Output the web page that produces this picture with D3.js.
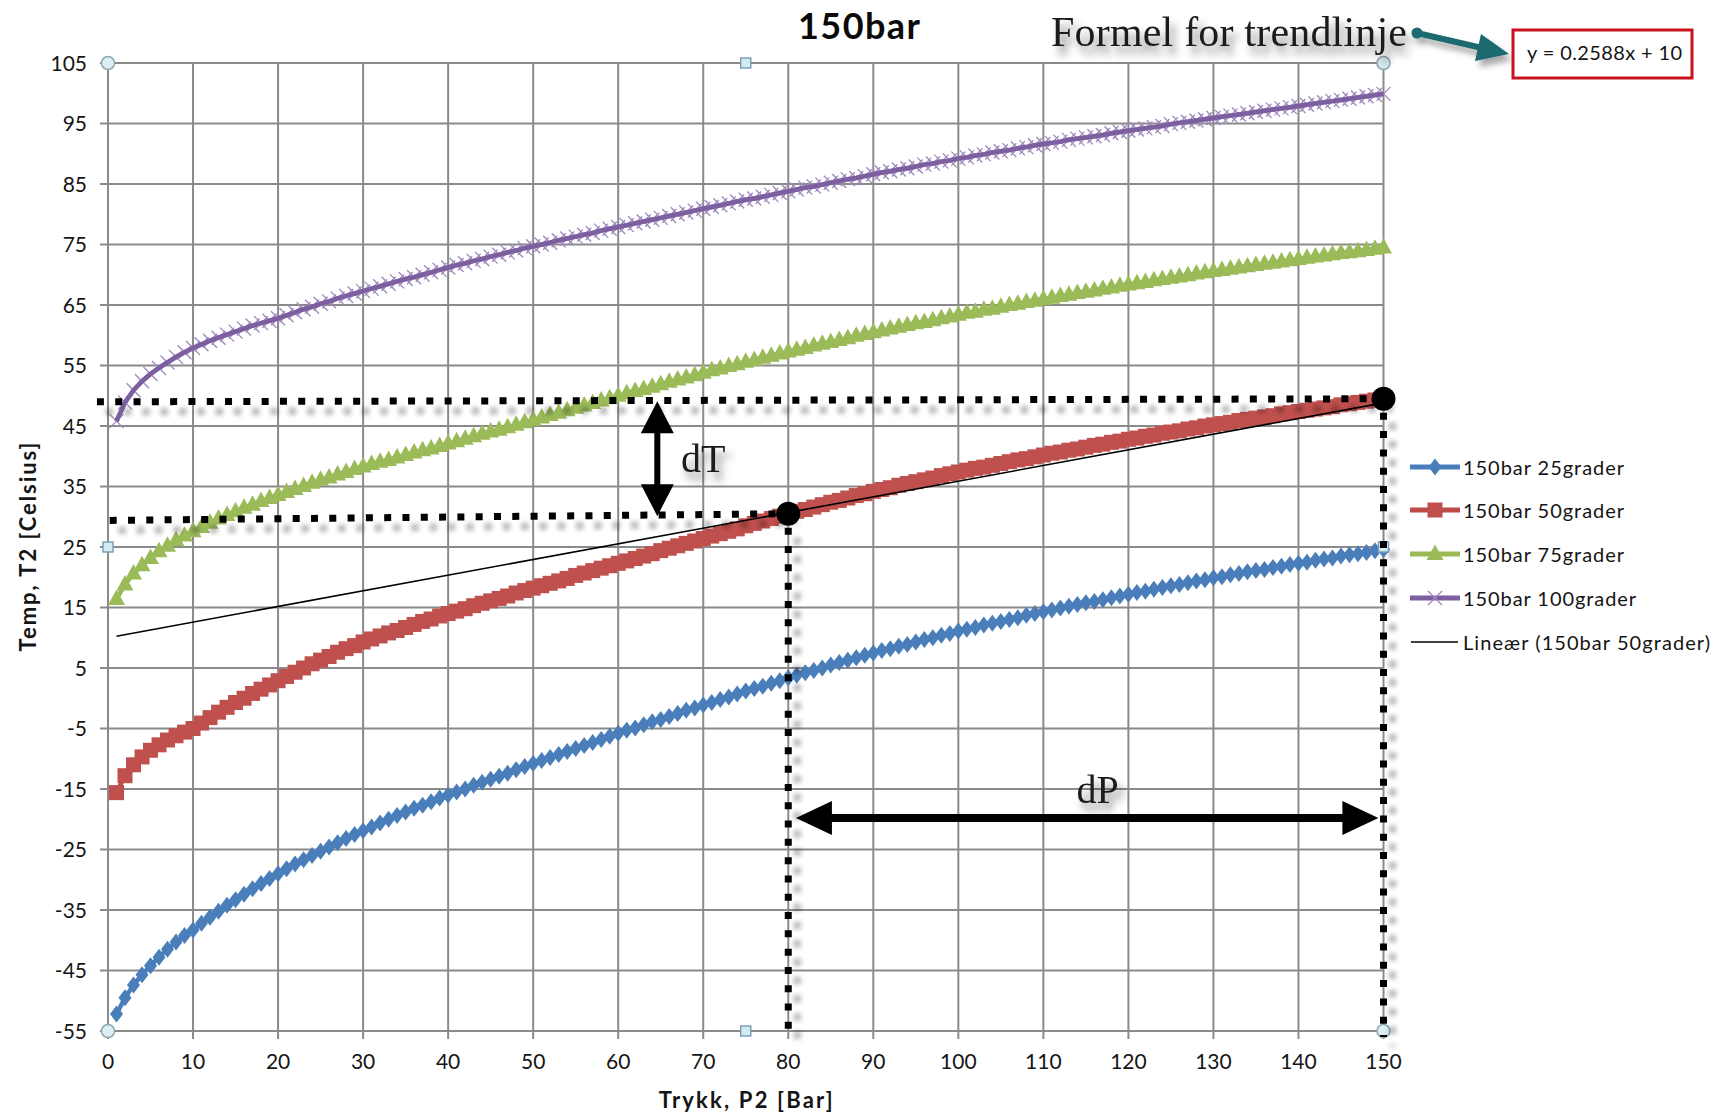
<!DOCTYPE html>
<html>
<head>
<meta charset="utf-8">
<script src="https://cdn.jsdelivr.net/npm/d3@7"></script>
<style>
  html, body { margin: 0; padding: 0; background: #ffffff; }
  svg { display: block; font-family: Lato, "Open Sans", sans-serif; }
</style>
</head>
<body>
<svg id="chart" width="1727" height="1118"></svg>
<script>
// ---- data -------------------------------------------------------------
// Outlet pressure P2 in bar (one reading per bar)
const pressure = d3.range(1, 151);

// Outlet temperature T2 [°C] when throttling from 150 bar, per inlet temperature
const t25 = [
  -52.2,-49.5,-47.4,-45.7,-44.2,-42.8,-41.5,-40.3,-39.2,-38.3,
  -37.2,-36.2,-35.2,-34.2,-33.3,-32.4,-31.5,-30.6,-29.8,-29.0,
  -28.2,-27.4,-26.7,-26.0,-25.3,-24.6,-23.9,-23.2,-22.5,-21.9,
  -21.3,-20.6,-20.0,-19.4,-18.8,-18.2,-17.7,-17.1,-16.5,-16.0,
  -15.5,-15.0,-14.4,-13.9,-13.4,-12.9,-12.4,-11.8,-11.3,-10.8,
  -10.3,-9.8,-9.3,-8.8,-8.3,-7.8,-7.3,-6.8,-6.3,-5.8,
  -5.3,-4.9,-4.4,-3.9,-3.5,-3.0,-2.5,-2.0,-1.6,-1.1,
  -0.7,-0.2,0.2,0.7,1.2,1.6,2.0,2.5,2.9,3.4,
  3.8,4.2,4.6,5.0,5.5,5.9,6.3,6.7,7.1,7.5,
  7.9,8.2,8.6,8.9,9.3,9.7,10.0,10.4,10.7,11.1,
  11.4,11.7,12.1,12.4,12.7,13.0,13.3,13.7,14.0,14.3,
  14.6,14.9,15.2,15.5,15.8,16.0,16.3,16.6,16.9,17.2,
  17.5,17.7,18.0,18.3,18.6,18.8,19.1,19.4,19.6,19.9,
  20.1,20.4,20.6,20.9,21.1,21.3,21.6,21.8,22.1,22.3,
  22.5,22.8,23.0,23.2,23.5,23.7,23.9,24.1,24.4,24.6
];
const t50 = [
  -15.6,-12.8,-11.0,-9.7,-8.6,-7.7,-6.9,-6.2,-5.6,-5.0,
  -4.1,-3.2,-2.3,-1.5,-0.7,0.0,0.8,1.5,2.2,2.9,
  3.6,4.3,5.0,5.7,6.3,6.9,7.6,8.2,8.7,9.3,
  9.8,10.3,10.8,11.2,11.7,12.2,12.7,13.1,13.6,14.0,
  14.4,14.8,15.3,15.7,16.1,16.5,16.9,17.4,17.8,18.2,
  18.6,19.0,19.4,19.8,20.3,20.7,21.1,21.5,21.9,22.3,
  22.7,23.1,23.5,23.9,24.4,24.8,25.2,25.6,26.0,26.4,
  26.8,27.2,27.6,28.0,28.5,28.9,29.3,29.7,30.1,30.5,
  30.9,31.2,31.6,32.0,32.4,32.7,33.1,33.5,33.8,34.2,
  34.5,34.8,35.2,35.5,35.8,36.1,36.4,36.8,37.1,37.4,
  37.7,38.0,38.2,38.5,38.8,39.1,39.4,39.6,39.9,40.2,
  40.5,40.7,41.0,41.2,41.5,41.8,42.0,42.3,42.5,42.8,
  43.0,43.3,43.5,43.8,44.0,44.2,44.5,44.7,45.0,45.2,
  45.4,45.6,45.9,46.1,46.3,46.5,46.7,47.0,47.2,47.4,
  47.6,47.8,48.0,48.2,48.5,48.7,48.9,49.1,49.3,49.5
];
const t75 = [
  16.4,18.8,20.6,22.0,23.2,24.3,25.2,26.1,26.9,27.6,
  28.3,29.0,29.7,30.3,30.9,31.5,32.0,32.6,33.1,33.6,
  34.1,34.6,35.1,35.6,36.1,36.5,37.0,37.4,37.9,38.3,
  38.7,39.1,39.4,39.8,40.2,40.6,41.0,41.3,41.7,42.1,
  42.5,42.9,43.3,43.7,44.1,44.4,44.8,45.2,45.6,46.0,
  46.4,46.8,47.2,47.6,48.0,48.4,48.8,49.2,49.6,50.0,
  50.4,50.8,51.1,51.5,51.9,52.3,52.7,53.0,53.4,53.8,
  54.2,54.5,54.9,55.2,55.6,55.9,56.3,56.6,57.0,57.3,
  57.6,57.9,58.3,58.6,58.9,59.2,59.5,59.9,60.2,60.5,
  60.8,61.1,61.4,61.7,62.0,62.2,62.5,62.8,63.1,63.4,
  63.7,63.9,64.2,64.4,64.7,65.0,65.2,65.5,65.7,66.0,
  66.2,66.5,66.7,67.0,67.2,67.4,67.7,67.9,68.2,68.4,
  68.6,68.8,69.1,69.3,69.5,69.7,69.9,70.2,70.4,70.6,
  70.8,71.0,71.2,71.4,71.6,71.8,72.0,72.2,72.4,72.6,
  72.8,73.0,73.2,73.4,73.6,73.7,73.9,74.1,74.3,74.5
];
const t100 = [
  45.8,48.9,50.9,52.4,53.6,54.6,55.5,56.4,57.2,57.9,
  58.5,59.1,59.6,60.1,60.6,61.1,61.6,62.0,62.4,62.8,
  63.3,63.8,64.3,64.7,65.2,65.6,66.1,66.5,66.9,67.3,
  67.7,68.1,68.5,68.9,69.3,69.6,70.0,70.4,70.8,71.2,
  71.6,71.9,72.3,72.6,73.0,73.3,73.7,74.0,74.4,74.7,
  75.0,75.3,75.7,76.0,76.3,76.6,76.9,77.3,77.6,77.9,
  78.2,78.5,78.8,79.1,79.4,79.7,80.0,80.3,80.6,80.9,
  81.2,81.5,81.8,82.1,82.4,82.6,82.9,83.2,83.5,83.8,
  84.1,84.4,84.6,84.9,85.2,85.5,85.8,86.0,86.3,86.6,
  86.9,87.1,87.4,87.6,87.9,88.2,88.4,88.7,88.9,89.2,
  89.4,89.7,89.9,90.2,90.4,90.6,90.9,91.1,91.4,91.6,
  91.8,92.0,92.3,92.5,92.7,92.9,93.1,93.4,93.6,93.8,
  94.0,94.2,94.4,94.6,94.9,95.1,95.3,95.5,95.7,95.9,
  96.1,96.3,96.5,96.7,96.9,97.1,97.3,97.5,97.7,97.9,
  98.1,98.3,98.5,98.7,98.9,99.1,99.3,99.5,99.7,99.9
];

const seriesNames = ["150bar 25grader", "150bar 50grader", "150bar 75grader", "150bar 100grader"];
const trendName = "Lineær (150bar 50grader)";
// Linear trendline of the 50 °C series, as stated in the equation box
const trendSlope = 0.2588;
const trendIntercept = 10;
const trendRange = [1, 150];

const xTicks = [0, 10, 20, 30, 40, 50, 60, 70, 80, 90, 100, 110, 120, 130, 140, 150];
const yTicks = [-55, -45, -35, -25, -15, -5, 5, 15, 25, 35, 45, 55, 65, 75, 85, 95, 105];

// Reading guides: operating point at 80 bar and end point at 150 bar
const guidePressures = [80, 150];
const upperGuideStart = [-1.3, 49.0];
const lowerGuideStart = [0.2, 29.4];
const dTArrow = { p: 64.6, from: 49.1, to: 30.1 };
const dPArrow = { t: -19.8, from: 80.9, to: 149.4 };
const dTLabel = { p: 67.4, t: 37.4, text: "dT" };
const dPLabel = { p: 113.9, t: -17.3, text: "dP" };

// ---- styles -----------------------------------------------------------
const colors = ["#4a7ebb", "#be4b48", "#98b954", "#7d5fa0"];
const markerFill = ["#4a7ebb", "#c0504d", "#9bbb59", "none"];
const markerStroke = ["none", "none", "none", "#9d88c0"];

// ---- scales -----------------------------------------------------------
const svg = d3.select("#chart");
const x = d3.scaleLinear().domain([0, 150]).range([108, 1383.5]);
const y = d3.scaleLinear().domain([-55, 105]).range([1031, 63]);

const defs = svg.append("defs");
function shadowFilter(id, blur, dx, dy, alpha) {
  const f = defs.append("filter").attr("id", id)
    .attr("filterUnits", "userSpaceOnUse")
    .attr("x", 0).attr("y", 0).attr("width", 1727).attr("height", 1118);
  f.append("feGaussianBlur").attr("in", "SourceAlpha").attr("stdDeviation", blur).attr("result", "b");
  f.append("feOffset").attr("in", "b").attr("dx", dx).attr("dy", dy).attr("result", "o");
  f.append("feComponentTransfer").attr("in", "o").attr("result", "s")
    .append("feFuncA").attr("type", "linear").attr("slope", alpha);
  const m = f.append("feMerge");
  m.append("feMergeNode").attr("in", "s");
  m.append("feMergeNode").attr("in", "SourceGraphic");
}
shadowFilter("dotShadow", 2.8, 9, 10, 0.32);
shadowFilter("textShadow", 4, 5, 8, 0.5);
shadowFilter("arrowShadow", 3, 4, 6, 0.35);

// ---- grid, axes -------------------------------------------------------
const gridColor = "#8a8a8a";
const grid = svg.append("g");
grid.selectAll("line.v").data(xTicks).join("line")
  .attr("x1", d => x(d)).attr("x2", d => x(d))
  .attr("y1", y(105)).attr("y2", y(-55) + 8)
  .attr("stroke", gridColor).attr("stroke-width", 2);
grid.selectAll("line.h").data(yTicks).join("line")
  .attr("x1", x(0) - 8).attr("x2", x(150))
  .attr("y1", d => y(d)).attr("y2", d => y(d))
  .attr("stroke", gridColor).attr("stroke-width", 2);

const labels = svg.append("g").attr("fill", "#151515").attr("font-size", 21);
labels.selectAll("text.y").data(yTicks).join("text")
  .attr("x", 87).attr("y", d => y(d) + 7.5)
  .attr("text-anchor", "end").text(d => d);
labels.selectAll("text.x").data(xTicks).join("text")
  .attr("x", d => x(d)).attr("y", 1069)
  .attr("text-anchor", "middle").text(d => d);

svg.append("text").attr("x", (x(0) + x(150)) / 2).attr("y", 1108)
  .attr("text-anchor", "middle").attr("font-weight", "bold").attr("font-size", 22)
  .attr("fill", "#151515").attr("textLength", 174).attr("lengthAdjust", "spacing")
  .text("Trykk, P2 [Bar]");
svg.append("text").attr("transform", `translate(36,${(y(-55) + y(105)) / 2}) rotate(-90)`)
  .attr("text-anchor", "middle").attr("font-weight", "bold").attr("font-size", 22)
  .attr("fill", "#151515").attr("textLength", 209).attr("lengthAdjust", "spacing")
  .text("Temp, T2 [Celsius]");

svg.append("text").attr("x", 859).attr("y", 39)
  .attr("text-anchor", "middle").attr("font-weight", "bold").attr("font-size", 36)
  .attr("fill", "#0a0a0a").attr("textLength", 122).attr("lengthAdjust", "spacing")
  .text("150bar");

// ---- series -----------------------------------------------------------
const allSeries = [t25, t50, t75, t100].map(vals => pressure.map((p, i) => [p, vals[i]]));
const line = d3.line().x(d => x(d[0])).y(d => y(d[1]));

const markerPaths = [
  "M0,-8.5L6.5,0L0,8.5L-6.5,0Z",
  "M-7.5,-7.5H7.5V7.5H-7.5Z",
  "M0,-9.5L8.5,6L-8.5,6Z",
  "M-7,-7L7,7M-7,7L7,-7"
];

allSeries.forEach((data, si) => {
  const gS = svg.append("g");
  gS.append("path").datum(data).attr("d", line)
    .attr("fill", "none").attr("stroke", colors[si])
    .attr("stroke-width", 4.5).attr("stroke-linejoin", "round");
  gS.selectAll("path.m").data(data).join("path")
    .attr("transform", d => `translate(${x(d[0])},${y(d[1])})`)
    .attr("d", markerPaths[si])
    .attr("fill", markerFill[si])
    .attr("stroke", markerStroke[si]).attr("stroke-width", 1.3);
  if (si === 3) {
    gS.append("path").datum(data).attr("d", line)
      .attr("fill", "none").attr("stroke", colors[si]).attr("stroke-width", 4.5);
  }
});

// trendline
svg.append("line")
  .attr("x1", x(trendRange[0])).attr("y1", y(trendSlope * trendRange[0] + trendIntercept))
  .attr("x2", x(trendRange[1])).attr("y2", y(trendSlope * trendRange[1] + trendIntercept))
  .attr("stroke", "#000").attr("stroke-width", 1.6);

// ---- plot-area handles -----------------------------------------------
const cornerHandles = [[0, 105], [150, 105], [0, -55], [150, -55]];
const edgeHandles = [[75, 105], [0, 25], [150, 25], [75, -55]];
svg.append("g").selectAll("circle").data(cornerHandles).join("circle")
  .attr("cx", d => x(d[0])).attr("cy", d => y(d[1])).attr("r", 6.5)
  .attr("fill", "#dcf0f4").attr("stroke", "#8ea7b2").attr("stroke-width", 1.5);
svg.append("g").selectAll("rect").data(edgeHandles).join("rect")
  .attr("x", d => x(d[0]) - 5).attr("y", d => y(d[1]) - 5)
  .attr("width", 10).attr("height", 10)
  .attr("fill", "#d3ecf3").attr("stroke", "#7c9fb9").attr("stroke-width", 1.5);

// ---- reading guides ---------------------------------------------------
const guidePoints = guidePressures.map(p => [p, t50[pressure.indexOf(p)]]);
const dots = svg.append("g").attr("filter", "url(#dotShadow)")
  .attr("stroke", "#000").attr("stroke-width", 7).attr("stroke-dasharray", "7 11.3").attr("fill", "none");
dots.append("line")
  .attr("x1", x(upperGuideStart[0])).attr("y1", y(upperGuideStart[1]))
  .attr("x2", x(guidePoints[1][0])).attr("y2", y(guidePoints[1][1]));
dots.append("line")
  .attr("x1", x(lowerGuideStart[0])).attr("y1", y(lowerGuideStart[1]))
  .attr("x2", x(guidePoints[0][0])).attr("y2", y(guidePoints[0][1]));
guidePoints.forEach(pt => {
  dots.append("line")
    .attr("x1", x(pt[0])).attr("y1", y(pt[1]) + 14)
    .attr("x2", x(pt[0])).attr("y2", y(-55) + 6);
});
svg.append("g").selectAll("circle").data(guidePoints).join("circle")
  .attr("cx", d => x(d[0])).attr("cy", d => y(d[1])).attr("r", 12).attr("fill", "#000");

// double-headed arrows
function doubleArrow(x1, y1, x2, y2, shaft, headLen, headHalf) {
  const dx = x2 - x1, dy = y2 - y1, L = Math.hypot(dx, dy);
  const ux = dx / L, uy = dy / L, nx = -uy, ny = ux;
  const pts = [];
  const P = (a, b) => pts.push([a, b]);
  const bx1 = x1 + ux * headLen, by1 = y1 + uy * headLen;
  const bx2 = x2 - ux * headLen, by2 = y2 - uy * headLen;
  P(x1, y1);
  P(bx1 + nx * headHalf, by1 + ny * headHalf);
  P(bx1 + nx * shaft / 2, by1 + ny * shaft / 2);
  P(bx2 + nx * shaft / 2, by2 + ny * shaft / 2);
  P(bx2 + nx * headHalf, by2 + ny * headHalf);
  P(x2, y2);
  P(bx2 - nx * headHalf, by2 - ny * headHalf);
  P(bx2 - nx * shaft / 2, by2 - ny * shaft / 2);
  P(bx1 - nx * shaft / 2, by1 - ny * shaft / 2);
  P(bx1 - nx * headHalf, by1 - ny * headHalf);
  return "M" + pts.map(p => p.join(",")).join("L") + "Z";
}
svg.append("path")
  .attr("d", doubleArrow(x(dTArrow.p), y(dTArrow.from), x(dTArrow.p), y(dTArrow.to), 6, 32, 16.5))
  .attr("fill", "#000");
svg.append("path")
  .attr("d", doubleArrow(x(dPArrow.from), y(dPArrow.t), x(dPArrow.to), y(dPArrow.t), 8, 36, 17))
  .attr("fill", "#000");

const serif = "'Liberation Serif', 'Times New Roman', serif";
[dTLabel, dPLabel].forEach(l => {
  svg.append("text").attr("x", x(l.p)).attr("y", y(l.t))
    .style("font-family", serif).attr("font-size", 40).attr("fill", "#1a1a1a")
    .attr("filter", "url(#textShadow)").text(l.text);
});

// ---- trendline formula callout ---------------------------------------
svg.append("text").attr("x", 1051).attr("y", 46)
  .style("font-family", serif).attr("font-size", 42).attr("fill", "#1a1a1a")
  .attr("textLength", 356).attr("lengthAdjust", "spacing")
  .attr("filter", "url(#textShadow)").text("Formel for trendlinje");

const callout = svg.append("g").attr("filter", "url(#arrowShadow)").attr("fill", "#1d6a6f");
callout.append("circle").attr("cx", 1417).attr("cy", 33).attr("r", 5.5);
callout.append("line").attr("x1", 1417).attr("y1", 33).attr("x2", 1482).attr("y2", 48)
  .attr("stroke", "#1d6a6f").attr("stroke-width", 6);
callout.append("path").attr("d", "M1509,54L1475,61L1481,34Z");

svg.append("rect").attr("x", 1513).attr("y", 30).attr("width", 179).attr("height", 48)
  .attr("fill", "#fff").attr("stroke", "#c8101e").attr("stroke-width", 3);
svg.append("text").attr("x", 1527).attr("y", 60).attr("font-size", 20).attr("fill", "#151515")
  .attr("textLength", 155).attr("lengthAdjust", "spacing")
  .text(`y = ${trendSlope}x + ${trendIntercept}`);

// ---- legend -----------------------------------------------------------
const legendY = [467, 510, 554, 598, 642];
const legendWidths = [161, 161, 161, 173, 247];
const legend = svg.append("g");
seriesNames.forEach((name, i) => {
  const ly = legendY[i];
  legend.append("line").attr("x1", 1410).attr("x2", 1460).attr("y1", ly).attr("y2", ly)
    .attr("stroke", colors[i]).attr("stroke-width", 5);
  legend.append("path").attr("transform", `translate(1435,${ly})`).attr("d", markerPaths[i])
    .attr("fill", markerFill[i]).attr("stroke", markerStroke[i]).attr("stroke-width", 1.3);
  legend.append("text").attr("x", 1463).attr("y", ly + 7.5).attr("font-size", 20)
    .attr("fill", "#151515").attr("textLength", legendWidths[i]).attr("lengthAdjust", "spacing")
    .text(name);
});
legend.append("line").attr("x1", 1411).attr("x2", 1458).attr("y1", legendY[4]).attr("y2", legendY[4])
  .attr("stroke", "#000").attr("stroke-width", 1.6);
legend.append("text").attr("x", 1463).attr("y", legendY[4] + 7.5).attr("font-size", 20)
  .attr("fill", "#151515").attr("textLength", legendWidths[4]).attr("lengthAdjust", "spacing")
  .text(trendName);
</script>
</body>
</html>
